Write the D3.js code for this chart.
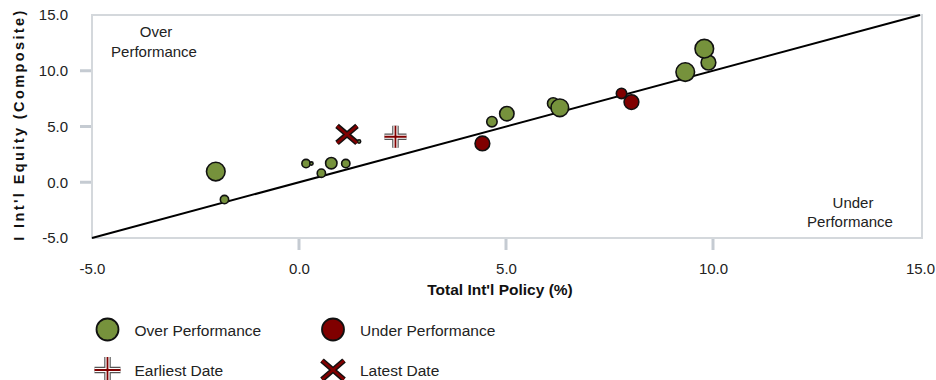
<!DOCTYPE html>
<html>
<head>
<meta charset="utf-8">
<script src="https://cdn.jsdelivr.net/npm/d3@7"></script>
<style>
  html, body { margin: 0; padding: 0; background: #fff; }
  svg { display: block; font-family: "Liberation Sans", Arial, sans-serif; }
</style>
</head>
<body>
<svg id="chart" width="936" height="380"></svg>
<script>
// ---- data ----
const xValues   = [-1.80, 0.17, 0.54, 0.78, 1.13, -2.01, 4.66, 5.02, 6.14, 6.30, 9.33, 9.89, 9.79, 0.30, 1.45, 4.43, 8.03, 7.79];
const yValues   = [-1.55, 1.68, 0.81, 1.71, 1.68, 0.96, 5.43, 6.15, 7.07, 6.68, 9.88, 10.73, 11.98, 1.68, 3.66, 3.48, 7.19, 7.97];
const sizes     = [16, 16, 16, 30, 16, 80, 25, 48, 30, 72, 80, 50, 80, 2.5, 2.5, 50, 50, 25];
const groups    = ["Over","Over","Over","Over","Over","Over","Over","Over","Over","Over","Over","Over","Over","Over","Over","Under","Under","Under"];
const earliest  = [2.33, 4.08];
const latest    = [1.16, 4.29];
const tickValues = [-5, 0, 5, 10, 15];
const innerTicks = [0, 5, 10];
const lineEnds  = [-5, 15];
const legendItems = ["Over Performance", "Under Performance", "Earliest Date", "Latest Date"];
const xTitle = "Total Int'l Policy (%)";
const yTitle = "I Int'l Equity (Composite)";

// ---- styles ----
const GREEN = "#76923c";
const RED = "#800000";
const GRID = "#d4d8dc";

const svg = d3.select("#chart");
const x = d3.scaleLinear().domain([-5, 15]).range([92, 920]);
const y = d3.scaleLinear().domain([-5, 15]).range([238, 15]);
const r = d3.scaleSqrt().domain([0, 80]).range([0, 9.3]);
const color = d3.scaleOrdinal().domain(["Over", "Under"]).range([GREEN, RED]);
const fmt = d => d.toFixed(1);

// plot frame
svg.append("rect")
  .attr("x", x(-5)).attr("y", y(15))
  .attr("width", x(15) - x(-5) + 2).attr("height", y(-5) - y(15))
  .attr("fill", "none").attr("stroke", GRID).attr("stroke-width", 2);

// y axis
const yAxis = d3.axisLeft(y).tickValues(tickValues).tickFormat(fmt).tickSize(0).tickPadding(24);
const gy = svg.append("g").attr("transform", `translate(${x(-5)},0)`).call(yAxis);
gy.select(".domain").remove();
gy.selectAll("text").attr("font-size", 15).attr("fill", "#222").attr("font-family", "Liberation Sans, Arial, sans-serif");
svg.append("g").selectAll("line").data(innerTicks).join("line")
  .attr("x1", x(-5) - 12).attr("x2", x(-5) - 1)
  .attr("y1", d => y(d)).attr("y2", d => y(d))
  .attr("stroke", "#c5cbd2").attr("stroke-width", 3);

// x axis
const xAxis = d3.axisBottom(x).tickValues(tickValues).tickFormat(fmt).tickSize(0).tickPadding(25);
const gx = svg.append("g").attr("transform", `translate(0,${y(-5)})`).call(xAxis);
gx.select(".domain").remove();
gx.selectAll("text").attr("font-size", 15).attr("fill", "#222").attr("font-family", "Liberation Sans, Arial, sans-serif");
svg.append("g").selectAll("line").data(innerTicks).join("line")
  .attr("x1", d => x(d)).attr("x2", d => x(d))
  .attr("y1", y(-5) + 1).attr("y2", y(-5) + 12)
  .attr("stroke", "#c5cbd2").attr("stroke-width", 3);

// axis titles
svg.append("text").attr("x", (x(-5) + x(15)) / 2 - 6).attr("y", 295)
  .attr("text-anchor", "middle").attr("font-weight", "bold").attr("font-size", 15.5).attr("fill", "#111")
  .text(xTitle);
svg.append("text").attr("transform", `translate(24,${(y(-5) + y(15)) / 2 - 2}) rotate(-90)`)
  .attr("text-anchor", "middle").attr("font-weight", "bold").attr("font-size", 14.5)
  .attr("letter-spacing", "2.4px").attr("fill", "#111")
  .text(yTitle);

// diagonal reference line
svg.append("line")
  .attr("x1", x(lineEnds[0])).attr("y1", y(lineEnds[0]))
  .attr("x2", x(lineEnds[1])).attr("y2", y(lineEnds[1]))
  .attr("stroke", "#000").attr("stroke-width", 2);

// quadrant labels
const q1 = svg.append("text").attr("text-anchor", "middle").attr("font-size", 15).attr("fill", "#222");
q1.append("tspan").attr("x", 156).attr("y", 37).text("Over");
q1.append("tspan").attr("x", 154).attr("y", 57).text("Performance");
const q2 = svg.append("text").attr("text-anchor", "middle").attr("font-size", 15).attr("fill", "#222");
q2.append("tspan").attr("x", 853).attr("y", 208).text("Under");
q2.append("tspan").attr("x", 850).attr("y", 227).text("Performance");

// bubbles
const pts = xValues.map((v, i) => ({ x: v, y: yValues[i], s: sizes[i], g: groups[i] }));
svg.append("g").selectAll("circle").data(pts).join("circle")
  .attr("cx", d => x(d.x)).attr("cy", d => y(d.y)).attr("r", d => r(d.s))
  .attr("fill", d => color(d.g)).attr("stroke", "#111").attr("stroke-width", 1.6);

// markers
function plus(g, cx, cy, h) {
  const p = `M${cx - h},${cy}H${cx + h}M${cx},${cy - h}V${cy + h}`;
  g.append("path").attr("d", p).attr("stroke", "#555").attr("stroke-width", 6.5).attr("fill", "none");
  g.append("path").attr("d", p).attr("stroke", "#fff").attr("stroke-width", 4.2).attr("fill", "none");
  g.append("path").attr("d", p).attr("stroke", RED).attr("stroke-width", 1.8).attr("fill", "none");
}
function cross(g, cx, cy, hw, hh) {
  const p = `M${cx - hw},${cy - hh}L${cx + hw},${cy + hh}M${cx - hw},${cy + hh}L${cx + hw},${cy - hh}`;
  g.append("path").attr("d", p).attr("stroke", "#111").attr("stroke-width", 5.5).attr("fill", "none");
  g.append("path").attr("d", p).attr("stroke", RED).attr("stroke-width", 2.6).attr("fill", "none");
}
const mg = svg.append("g");
plus(mg, x(earliest[0]), y(earliest[1]), 11);
cross(mg, x(latest[0]), y(latest[1]), 10, 8.5);

// legend
const lg = svg.append("g");
const legPos = [[107.5, 329.5], [333, 329.5], [107.5, 370], [333, 370]];
legendItems.forEach((t, i) => {
  const [lx, ly] = legPos[i];
  if (i === 0 || i === 1) {
    lg.append("circle").attr("cx", lx).attr("cy", ly).attr("r", 11)
      .attr("fill", i === 0 ? GREEN : RED).attr("stroke", "#111").attr("stroke-width", 1.8);
  } else if (i === 2) {
    plus(lg, lx, ly, 13);
  } else {
    cross(lg, lx, ly, 11, 9.5);
  }
  lg.append("text").attr("x", lx + 27).attr("y", ly + 6).attr("font-size", 15.5).attr("fill", "#222").text(t);
});
</script>
</body>
</html>
